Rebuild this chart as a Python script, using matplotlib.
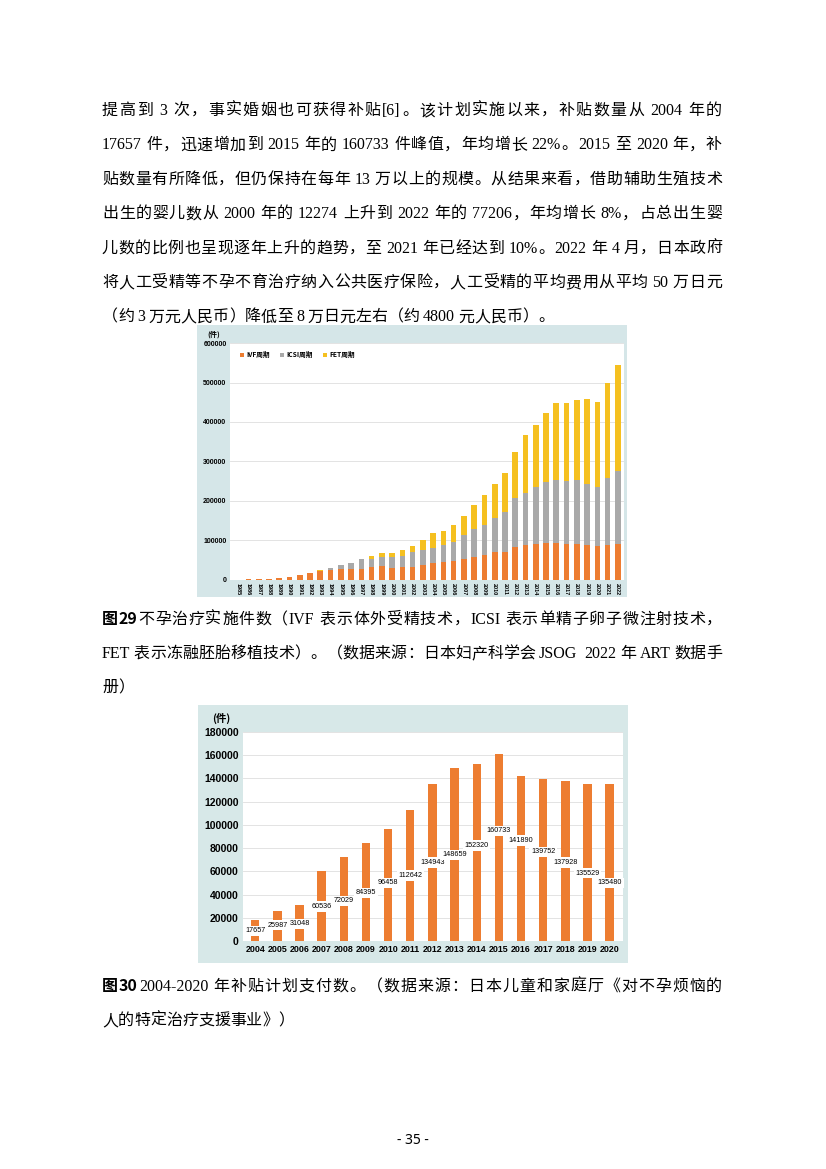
import re
import matplotlib
matplotlib.use("Agg")
import matplotlib.pyplot as plt
from matplotlib.patches import Rectangle
from matplotlib.font_manager import FontProperties

plt.rcParams['font.family'] = ['Noto Sans CJK SC', 'DejaVu Sans']

W, H = 826, 1169

## data: figure 29 (JSOG ART cycles)
years29 = [str(y) for y in range(1985, 2023)]
ivf = [1000, 1500, 2000, 2500, 4000, 8000, 12000, 18000, 22000, 25000,
       27000, 27000, 29000, 33000, 35000, 31000, 33000, 34000, 38000, 42000,
       46000, 48000, 53000, 57000, 64000, 70000, 72000, 83000, 88000, 90000,
       94000, 94000, 91000, 90000, 89000, 86000, 89000, 90000]
icsi = [0, 0, 0, 0, 0, 0, 0, 500, 2000, 6000,
        10000, 16000, 23000, 20000, 23000, 27000, 28000, 37000, 39000, 40000,
        43000, 49000, 61000, 73000, 74000, 86000, 99000, 124000, 133000, 145000,
        155000, 159000, 159000, 162000, 154000, 150000, 169000, 187000]
fet = [0, 0, 0, 0, 0, 0, 0, 0, 500, 0,
       0, 0, 2000, 9000, 11000, 11000, 15000, 15000, 25000, 36000,
       36000, 42000, 47000, 60000, 76000, 86000, 99000, 118000, 145000, 158000,
       175000, 195000, 199000, 203000, 215000, 214000, 240000, 268000]
legend29 = ['IVF周期', 'ICSI周期', 'FET周期']

## data: figure 30 (subsidy payments)
years30 = [str(y) for y in range(2004, 2021)]
subsidy = [17657, 25987, 31048, 60536, 72029, 84395, 96458, 112642, 134943,
           148659, 152320, 160733, 141890, 139752, 137928, 135529, 135480]
# where each value label sits, as a share of its bar
label_frac = [0.49, 0.53, 0.48, 0.49, 0.48, 0.49, 0.52, 0.50, 0.50,
              0.50, 0.54, 0.59, 0.61, 0.55, 0.49, 0.43, 0.37]

body = [
    '提高到 3 次，事实婚姻也可获得补贴[6]。该计划实施以来，补贴数量从 2004 年的',
    '17657 件，迅速增加到 2015 年的 160733 件峰值，年均增长 22%。2015 至 2020 年，补',
    '贴数量有所降低，但仍保持在每年 13 万以上的规模。从结果来看，借助辅助生殖技术',
    '出生的婴儿数从 2000 年的 12274 上升到 2022 年的 77206，年均增长 8%，占总出生婴',
    '儿数的比例也呈现逐年上升的趋势，至 2021 年已经达到 10%。2022 年 4 月，日本政府',
    '将人工受精等不孕不育治疗纳入公共医疗保险，人工受精的平均费用从平均 50 万日元',
    '（约 3 万元人民币）降低至 8 万日元左右（约 4800 元人民币）。',
]
cap29 = ['不孕治疗实施件数（IVF 表示体外受精技术，ICSI 表示单精子卵子微注射技术，',
         'FET 表示冻融胚胎移植技术）。（数据来源：日本妇产科学会 JSOG  2022 年 ART 数据手',
         '册）']
cap30 = ['2004-2020 年补贴计划支付数。（数据来源：日本儿童和家庭厅《对不孕烦恼的',
         '人的特定治疗支援事业》）']

fig = plt.figure(figsize=(W / 100, H / 100), dpi=100)
fig.patch.set_facecolor('white')
rend = fig.canvas.get_renderer()


def box(x0, y0, x1, y1):
    return [x0 / W, 1 - y1 / H, (x1 - x0) / W, (y1 - y0) / H]


def put_line(y, s, head='', justify=True, size=11.5, x0=102, x1=722):
    toks = [(t, True) for t in re.findall(r'\d+|\S', head)]
    toks += [(t, False) for t in re.findall(r'[A-Za-z0-9%\.\-\[\]]+|\s|.', s)]
    widths = []
    for t, b in toks:
        if t == ' ':
            widths.append(size * 0.3)
            continue
        fp = FontProperties(family=['Liberation Serif'] if (t.isascii() and not b) else ['Noto Sans CJK SC'],
                            size=size, weight='bold' if b else 'normal')
        w, h, d = rend.get_text_width_height_descent(t, fp, ismath=False)
        widths.append(w)
    gap = 0
    if justify and len(toks) > 1:
        gap = max(0, (x1 - x0 - sum(widths)) / (len(toks) - 1))
    x = x0
    for (t, b), w in zip(toks, widths):
        if t != ' ':
            fam = ['Liberation Serif'] if (t.isascii() and not b) else ['Noto Sans CJK SC']
            fig.text(x / W, 1 - y / H, t, fontsize=size, family=fam,
                     weight='bold' if b else 'normal', ha='left', va='baseline')
        x += w + gap


for i, line in enumerate(body):
    put_line(115 + i * 34.4, line, justify=(i < len(body) - 1))

put_line(624, cap29[0], head='图29 ')
put_line(658, cap29[1])
put_line(692, cap29[2], justify=False)
put_line(991, cap30[0], head='图 30 ')
put_line(1025, cap30[1], justify=False)

fig.text(413 / W, 1 - 1140 / H, '- 35 -', fontsize=10, family=['Noto Sans'],
         ha='center', va='center')

## figure 29
fig.patches.append(Rectangle((197 / W, 1 - 597 / H), 430 / W, 272 / H,
                             transform=fig.transFigure, facecolor='#d5e6e8',
                             edgecolor='none', zorder=-5))
ax1 = fig.add_axes(box(230, 343, 624, 580))
ax1.set_facecolor('white')
x1 = range(len(years29))
bot2 = [a + b for a, b in zip(ivf, icsi)]
ax1.bar(x1, ivf, width=0.55, color='#ed7d31', label=legend29[0], zorder=3)
ax1.bar(x1, icsi, width=0.55, bottom=ivf, color='#a9a9a9', label=legend29[1], zorder=3)
ax1.bar(x1, fet, width=0.55, bottom=bot2, color='#f5c020', label=legend29[2], zorder=3)
ax1.set_xlim(-0.8, len(years29) - 0.4)
ax1.set_ylim(0, 600000)
ax1.set_yticks(range(0, 600001, 100000))
ax1.set_yticklabels([str(v) for v in range(0, 600001, 100000)],
                    fontsize=5, weight='bold', family=['Liberation Sans'])
ax1.set_xticks(list(x1))
ax1.set_xticklabels(years29, rotation=-90, fontsize=4, weight='bold',
                    family=['Liberation Sans'])
ax1.tick_params(length=0, pad=2.5)
ax1.grid(axis='y', color='#dedede', linewidth=0.6, zorder=0)
for sp in ax1.spines.values():
    sp.set_visible(False)
ax1.legend(loc='upper left', ncol=3, frameon=False,
           handlelength=0.6, handleheight=0.6, handletextpad=0.3,
           columnspacing=1.6, bbox_to_anchor=(0.01, 0.99),
           prop={'weight': 'bold', 'size': 4.8, 'family': ['Noto Sans CJK SC']})
fig.text(214 / W, 1 - 334 / H, '(件)', fontsize=5.2, weight='bold',
         ha='center', va='center')

## figure 30
fig.patches.append(Rectangle((198 / W, 1 - 963 / H), 430 / W, 258 / H,
                             transform=fig.transFigure, facecolor='#d7e8e8',
                             edgecolor='none', zorder=-5))
ax2 = fig.add_axes(box(243, 732, 623, 941))
ax2.set_facecolor('white')
x2 = range(len(years30))
ax2.bar(x2, subsidy, width=0.38, color='#ed7d31', zorder=3)
for i, v in enumerate(subsidy):
    ax2.text(i, v * label_frac[i], str(v), fontsize=5.2, ha='center', va='center',
             family=['Liberation Sans'], zorder=4,
             bbox=dict(facecolor='white', edgecolor='none', pad=1.2))
ax2.set_xlim(-0.55, len(years30) - 0.4)
ax2.set_ylim(0, 180000)
ax2.set_yticks(range(0, 180001, 20000))
ax2.set_yticklabels([str(v) for v in range(0, 180001, 20000)],
                    fontsize=7.5, weight='bold', family=['Liberation Sans'])
ax2.set_xticks(list(x2))
ax2.set_xticklabels(years30, fontsize=6.4, weight='bold', family=['Liberation Sans'])
ax2.tick_params(length=0, pad=3)
ax2.grid(axis='y', color='#dedede', linewidth=0.6, zorder=0)
for sp in ax2.spines.values():
    sp.set_visible(False)
fig.text(221 / W, 1 - 718 / H, '(件)', fontsize=7.5, weight='bold',
         ha='center', va='center')

fig.savefig('out.png', dpi=100, facecolor='white')
